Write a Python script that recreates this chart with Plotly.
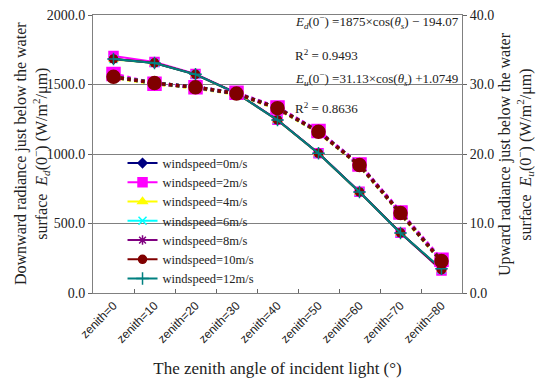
import plotly.graph_objects as go

categories = ["zenith=0", "zenith=10", "zenith=20", "zenith=30", "zenith=40",
              "zenith=50", "zenith=60", "zenith=70", "zenith=80"]

series_names = ["windspeed=0m/s", "windspeed=2m/s", "windspeed=4m/s", "windspeed=6m/s",
                "windspeed=8m/s", "windspeed=10m/s", "windspeed=12m/s"]

# Downward radiance Ed(0-) (left axis)
ed_0 = [1683, 1655, 1572, 1437, 1244, 1004, 726, 432, 168]
ed_2 = [1705, 1662, 1576, 1440, 1246, 1006, 728, 434, 162]
ed_4 = [1680, 1654, 1571, 1436, 1243, 1003, 725, 431, 170]
ed_6 = [1682, 1655, 1572, 1437, 1244, 1004, 726, 432, 168]
ed_8 = [1683, 1655, 1573, 1438, 1245, 1005, 727, 432, 168]
ed_10 = [1684, 1656, 1573, 1438, 1245, 1005, 727, 433, 168]
ed_12 = [1683, 1655, 1573, 1438, 1245, 1005, 727, 432, 175]

# Upward radiance Eu(0-) (right axis)
eu_0 = [31.1, 30.2, 29.6, 28.7, 26.6, 23.2, 18.4, 11.5, 4.6]
eu_2 = [31.5, 30.1, 29.6, 28.8, 26.7, 23.3, 18.5, 11.6, 4.8]
eu_4 = [31.0, 30.1, 29.5, 28.6, 26.5, 23.1, 18.3, 11.4, 4.5]
eu_6 = [31.1, 30.2, 29.6, 28.7, 26.6, 23.2, 18.4, 11.5, 4.6]
eu_8 = [31.1, 30.2, 29.6, 28.7, 26.6, 23.2, 18.4, 11.5, 4.6]
eu_10 = [31.1, 30.2, 29.6, 28.7, 26.6, 23.2, 18.4, 11.5, 4.6]
eu_12 = [31.1, 30.2, 29.6, 28.7, 26.6, 23.2, 18.4, 11.5, 4.6]

ed_all = [ed_0, ed_2, ed_4, ed_6, ed_8, ed_10, ed_12]
eu_all = [eu_0, eu_2, eu_4, eu_6, eu_8, eu_10, eu_12]

colors = ["#000080", "#FF00FF", "#FFFF00", "#00FFFF", "#800080", "#800000", "#008080"]
symbols = ["diamond", "square", "triangle-up", "x-thin-open", "asterisk-open", "circle", "cross-thin-open"]
ed_sizes = [7, 9, 8, 8, 8, 8, 9]
eu_sizes = [7, 13, 10, 9, 9, 13, 9]

SERIF = "Liberation Serif"
SANS = "Liberation Sans"

fig = go.Figure()

for i, name in enumerate(series_names):
    fig.add_trace(go.Scatter(
        x=categories, y=ed_all[i], name=name, legendgroup=name,
        mode="lines+markers",
        line=dict(color=colors[i], width=2),
        marker=dict(symbol=symbols[i], size=ed_sizes[i], color=colors[i],
                    line=dict(color=colors[i], width=1.5)),
        yaxis="y",
    ))

eu_order = [0, 1, 2, 3, 4, 6, 5]
for i in eu_order:
    name = series_names[i]
    fig.add_trace(go.Scatter(
        x=categories, y=eu_all[i], name=name, legendgroup=name, showlegend=False,
        mode="lines+markers",
        line=dict(color=colors[i], width=3.5, dash="dot"),
        marker=dict(symbol=symbols[i], size=eu_sizes[i], color=colors[i],
                    line=dict(color=colors[i], width=1.5)),
        yaxis="y2",
    ))

eq_lines = [
    ("<i>E<sub>d</sub></i>(0<sup>−</sup>) =1875×cos(<i>θ<sub>s</sub></i>) − 194.07", 0.975),
    ("R<sup>2</sup> = 0.9493", 0.855),
    ("<i>E<sub>u</sub></i>(0<sup>−</sup>) =31.13×cos(<i>θ<sub>s</sub></i>) +1.0749", 0.77),
    ("R<sup>2</sup> = 0.8636", 0.665),
]
annotations = []
for txt, yy in eq_lines:
    annotations.append(dict(text=txt, xref="paper", yref="paper", x=0.542, y=yy,
                            xanchor="left", yanchor="middle", showarrow=False,
                            font=dict(family=SERIF, size=13, color="#222")))

# axis titles
annotations.append(dict(
    text="Downward radiance just below the water<br>surface  <i>E<sub>d</sub></i>(0<sup>−</sup>) (W/m<sup>2</sup>/μm)",
    xref="paper", yref="paper", x=0, y=0.5, xanchor="center", yanchor="middle",
    xshift=-61, textangle=-90, showarrow=False,
    font=dict(family=SERIF, size=16, color="#222")))
annotations.append(dict(
    text="Upward radiance just below the water<br>surface  <i>E<sub>u</sub></i>(0<sup>−</sup>) (W/m<sup>2</sup>/μm)",
    xref="paper", yref="paper", x=1, y=0.5, xanchor="center", yanchor="middle",
    xshift=54, textangle=-90, showarrow=False,
    font=dict(family=SERIF, size=16, color="#222")))

fig.update_layout(
    width=550, height=388,
    margin=dict(l=85, r=96, t=7, b=103, autoexpand=False),
    paper_bgcolor="white", plot_bgcolor="white",
    showlegend=True,
    legend=dict(x=0.08, y=0.52, xanchor="left", yanchor="top",
                bgcolor="rgba(0,0,0,0)", font=dict(family=SERIF, size=12.5, color="#222"),
                tracegroupgap=0, itemwidth=30),
    annotations=annotations,
    xaxis=dict(
        type="category", range=[-0.5, 8.5], tickson="boundaries",
        ticks="inside", ticklen=4, tickcolor="#666", automargin=False,
        showline=True, linecolor="#808080", linewidth=1, mirror=True,
        showgrid=False, tickangle=-45,
        tickfont=dict(family=SANS, size=12, color="#222"),
        title=dict(text="The zenith angle of incident light (°)",
                   font=dict(family=SERIF, size=17, color="#222"), standoff=17),
    ),
    yaxis=dict(
        range=[0, 2000], dtick=500, tickformat=".1f", automargin=False,
        ticks="outside", ticklen=4, tickcolor="#666", ticklabeloverflow="allow",
        showline=True, linecolor="#808080", linewidth=1,
        showgrid=True, gridcolor="#808080", gridwidth=1, zeroline=False,
        tickfont=dict(family=SERIF, size=14, color="#222"),
    ),
    yaxis2=dict(
        overlaying="y", side="right", range=[0, 40], dtick=10, tickformat=".1f",
        ticks="outside", ticklen=4, tickcolor="#666", automargin=False,
        ticklabeloverflow="allow",
        showline=True, linecolor="#808080", linewidth=1,
        showgrid=False, zeroline=False,
        tickfont=dict(family=SERIF, size=14, color="#222"),
    ),
)

fig.write_html("out.html")
